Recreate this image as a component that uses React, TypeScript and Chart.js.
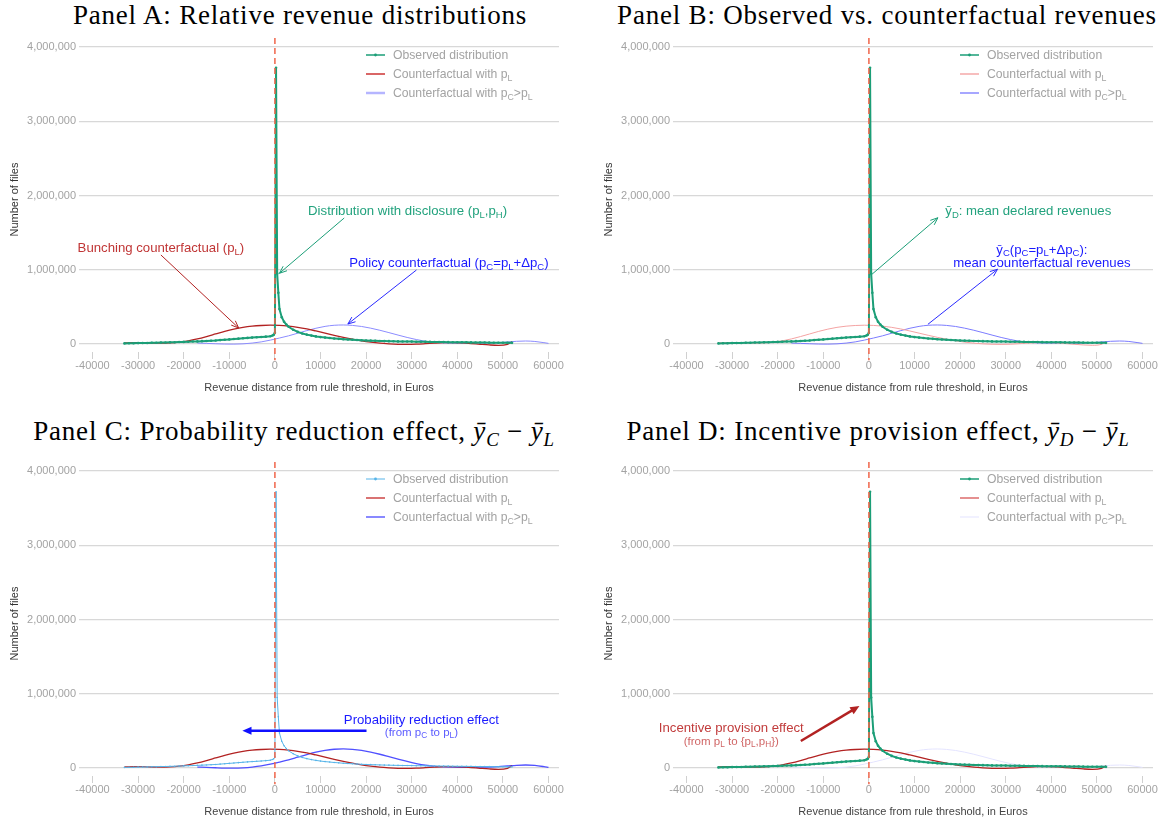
import React, { useEffect, useRef } from "react";
import { Chart, registerables } from "chart.js";
Chart.register(...registerables);

// ---------- data ----------
const xTickValues = [-40000, -30000, -20000, -10000, 0, 10000, 20000, 30000, 40000, 50000, 60000];
const yTickValues = [0, 1000000, 2000000, 3000000, 4000000];
const threshold = 0;

const observedRevenue = [
  -33000, -32000, -31000, -30000, -29000, -28000, -27000, -26000, -25000, -24000,
  -23000, -22000, -21000, -20000, -19000, -18000, -17000, -16000, -15000, -14000,
  -13000, -12000, -11000, -10000, -9000, -8000, -7000, -6000, -5000, -4000,
  -3000, -2000, -1000, -500, -250, 0, 250, 500, 750, 1000,
  1500, 2000, 2500, 3000, 4000, 5000, 6000, 7000, 8000, 9000,
  10000, 11000, 12000, 13000, 14000, 15000, 16000, 17000, 18000, 19000,
  20000, 21000, 22000, 23000, 24000, 25000, 26000, 27000, 28000, 29000,
  30000, 31000, 32000, 33000, 34000, 35000, 36000, 37000, 38000, 39000,
  40000, 41000, 42000, 43000, 44000, 45000, 46000, 47000, 48000, 49000,
  50000, 51000, 52000,
];
const observedFiles = [
  8000, 9000, 10000, 12000, 13000, 14000, 16000, 17000, 19000, 20000,
  22000, 24000, 26000, 28000, 30000, 33000, 35000, 38000, 41000, 44000,
  47000, 52000, 57000, 62000, 67000, 72000, 77000, 82000, 86000, 90000,
  94000, 99000, 105000, 115000, 125000, 150000, 3720000, 950000, 690000, 470000,
  360000, 300000, 262000, 232000, 192000, 163000, 142000, 126000, 113000, 102000,
  93000, 86000, 80000, 74000, 69000, 64000, 60000, 56000, 53000, 50000,
  47000, 45000, 43000, 41000, 39000, 38000, 36000, 35000, 34000, 33000,
  32000, 31000, 30000, 29000, 28000, 27000, 26000, 25500, 25000, 24000,
  23000, 22500, 22000, 21000, 20000, 19500, 19000, 18000, 17500, 17000,
  16000, 15500, 15000,
];

const bunchingRevenue = [
  -33000, -31000, -29000, -27000, -25000, -23000, -21000, -19000, -17000, -15000,
  -13000, -11000, -9000, -7000, -5000, -3000, -1000, 1000, 3000, 5000,
  7000, 9000, 11000, 13000, 15000, 17000, 19000, 21000, 23000, 25000,
  27000, 29000, 31000, 33000, 35000, 37000, 39000, 41000, 43000, 45000,
  47000, 49000, 51000, 52000,
];
const bunchingFiles = [
  15000, 18000, 17000, 13000, 11000, 14000, 24000, 42000, 68000, 100000,
  135000, 170000, 200000, 224000, 240000, 249000, 253000, 250000, 240000, 224000,
  202000, 175000, 146000, 117000, 90000, 65000, 43000, 25000, 11000, 2000,
  -4000, -6000, -3000, 4000, 12000, 18000, 19000, 14000, 6000, -4000,
  -13000, -18000, -4000, 30000,
];

const policyRevenue = [
  -17000, -15000, -13000, -11000, -9000, -7000, -5000, -3000, -1000, 1000,
  3000, 5000, 7000, 9000, 11000, 13000, 15000, 17000, 19000, 21000,
  23000, 25000, 27000, 29000, 31000, 33000, 35000, 37000, 39000, 41000,
  43000, 45000, 47000, 49000, 51000, 53000, 55000, 57000, 59000, 60000,
];
const policyFiles = [
  12000, 8000, 3000, -1000, -2000, 2000, 12000, 28000, 52000, 80000,
  110000, 145000, 180000, 212000, 237000, 252000, 256000, 250000, 236000, 213000,
  185000, 153000, 120000, 88000, 60000, 37000, 22000, 14000, 11000, 10000,
  10000, 11000, 13000, 18000, 27000, 36000, 40000, 34000, 18000, 8000,
];

// ---------- layout constants ----------
const X_MIN = -42960;
const X_MAX = 62300;
const Y_MIN = -108000;
const Y_MAX = 4000000;
const THRESH_TOP = 4120000;
const THRESH_BOTTOM = -220000;

const SANS = '"Liberation Sans", Arial, Helvetica, sans-serif';
const SERIF = '"Liberation Serif", "Times New Roman", serif';

type Seg = { t: string; sub?: boolean };
type TextAnn = { x: number; y: number; segs: Seg[]; color: string; size: number; align: "left" | "center" };
type ArrowAnn = { from: [number, number]; to: [number, number]; color: string; width: number; head: "open" | "filled"; headLen: number };
type LegendItem = { color: string; width: number; marker?: boolean; segs: Seg[] };

const legendLabels: Seg[][] = [
  [{ t: "Observed distribution" }],
  [{ t: "Counterfactual with p" }, { t: "L", sub: true }],
  [{ t: "Counterfactual with p" }, { t: "C", sub: true }, { t: ">p" }, { t: "L", sub: true }],
];

function pts(xs: number[], ys: number[]) {
  return xs.map((x, i) => ({ x, y: ys[i] }));
}

function drawRich(ctx: CanvasRenderingContext2D, segs: Seg[], x: number, y: number, align: string, size: number, color: string) {
  const subSize = size * 0.72;
  let total = 0;
  const widths = segs.map((s) => {
    ctx.font = `${s.sub ? subSize : size}px ${SANS}`;
    const w = ctx.measureText(s.t).width;
    total += w;
    return w;
  });
  let cx = align === "center" ? x - total / 2 : x;
  ctx.fillStyle = color;
  ctx.textAlign = "left";
  ctx.textBaseline = "alphabetic";
  const base = y + size * 0.36;
  segs.forEach((s, i) => {
    ctx.font = `${s.sub ? subSize : size}px ${SANS}`;
    ctx.fillText(s.t, cx, s.sub ? base + size * 0.2 : base);
    cx += widths[i];
  });
}

function drawArrow(ctx: CanvasRenderingContext2D, x1: number, y1: number, x2: number, y2: number, a: ArrowAnn) {
  const ang = Math.atan2(y2 - y1, x2 - x1);
  ctx.save();
  ctx.strokeStyle = a.color;
  ctx.fillStyle = a.color;
  ctx.lineWidth = a.width;
  ctx.lineCap = "butt";
  const spread = a.head === "filled" ? 0.42 : 0.38;
  const endX = a.head === "filled" ? x2 - Math.cos(ang) * a.headLen * 0.7 : x2;
  const endY = a.head === "filled" ? y2 - Math.sin(ang) * a.headLen * 0.7 : y2;
  ctx.beginPath();
  ctx.moveTo(x1, y1);
  ctx.lineTo(endX, endY);
  ctx.stroke();
  const hx1 = x2 - a.headLen * Math.cos(ang - spread);
  const hy1 = y2 - a.headLen * Math.sin(ang - spread);
  const hx2 = x2 - a.headLen * Math.cos(ang + spread);
  const hy2 = y2 - a.headLen * Math.sin(ang + spread);
  ctx.beginPath();
  if (a.head === "filled") {
    ctx.moveTo(x2, y2);
    ctx.lineTo(hx1, hy1);
    ctx.lineTo(hx2, hy2);
    ctx.closePath();
    ctx.fill();
  } else {
    ctx.lineWidth = Math.max(1, a.width);
    ctx.moveTo(hx1, hy1);
    ctx.lineTo(x2, y2);
    ctx.lineTo(hx2, hy2);
    ctx.stroke();
  }
  ctx.restore();
}

type PanelDef = {
  key: string;
  left: number;
  top: number;
  width: number;
  height: number;
  padRight: number;
  titleCenter: number;
  titleTop: number;
  title: React.ReactNode;
  obsColor: string;
  obsWidth: number;
  obsPoint: number;
  redColor: string;
  redWidth: number;
  blueColor: string;
  blueWidth: number;
  legend: LegendItem[];
  texts: TextAnn[];
  arrows: ArrowAnn[];
};

const GREEN = "#1b9e77";
const RED = "#b22222";

const ybar = (sub: string) => (
  <>
    <i>ȳ</i>
    <sub style={{ fontSize: "0.7em", lineHeight: 0, fontStyle: "italic" }}>{sub}</sub>
  </>
);

const panels: PanelDef[] = [
  {
    key: "A",
    left: 0,
    top: 30,
    width: 594,
    height: 370,
    padRight: 35,
    titleCenter: 300,
    titleTop: 0,
    title: <>Panel A: Relative revenue distributions</>,
    obsColor: GREEN,
    obsWidth: 2,
    obsPoint: 1.3,
    redColor: RED,
    redWidth: 1.3,
    blueColor: "#8c8cff",
    blueWidth: 1,
    legend: [
      { color: GREEN, width: 1.5, marker: true, segs: legendLabels[0] },
      { color: "#cc3333", width: 1.5, segs: legendLabels[1] },
      { color: "#b5b5ff", width: 2.5, segs: legendLabels[2] },
    ],
    texts: [
      { x: 29100, y: 1795000, color: "#22a27d", size: 13.2, align: "center", segs: [{ t: "Distribution with disclosure (p" }, { t: "L", sub: true }, { t: ",p" }, { t: "H", sub: true }, { t: ")" }] },
      { x: -25000, y: 1297000, color: "#c03535", size: 13.2, align: "center", segs: [{ t: "Bunching counterfactual (p" }, { t: "L", sub: true }, { t: ")" }] },
      { x: 38160, y: 1095000, color: "#1a1aff", size: 13.2, align: "center", segs: [{ t: "Policy counterfactual (p" }, { t: "C", sub: true }, { t: "=p" }, { t: "L", sub: true }, { t: "+Δp" }, { t: "C", sub: true }, { t: ")" }] },
    ],
    arrows: [
      { from: [15200, 1697000], to: [990, 952000], color: GREEN, width: 1, head: "open", headLen: 8 },
      { from: [-25000, 1199000], to: [-7940, 215000], color: RED, width: 1, head: "open", headLen: 8 },
      { from: [31050, 997000], to: [16000, 269000], color: "#2a2aff", width: 1, head: "open", headLen: 8 },
    ],
  },
  {
    key: "B",
    left: 594,
    top: 30,
    width: 568,
    height: 370,
    padRight: 9,
    titleCenter: 887,
    titleTop: 0,
    title: <>Panel B: Observed vs. counterfactual revenues</>,
    obsColor: GREEN,
    obsWidth: 2,
    obsPoint: 1.3,
    redColor: "#f4a3a3",
    redWidth: 1,
    blueColor: "#7c7cff",
    blueWidth: 1,
    legend: [
      { color: GREEN, width: 1.5, marker: true, segs: legendLabels[0] },
      { color: "#f4a8a8", width: 1.5, segs: legendLabels[1] },
      { color: "#8a8aff", width: 1.5, segs: legendLabels[2] },
    ],
    texts: [
      { x: 16750, y: 1795000, color: "#22a27d", size: 13.2, align: "left", segs: [{ t: "ȳ" }, { t: "D", sub: true }, { t: ": mean declared revenues" }] },
      { x: 37940, y: 1280000, color: "#1a1aff", size: 13.2, align: "center", segs: [{ t: "ȳ" }, { t: "C", sub: true }, { t: "(p" }, { t: "C", sub: true }, { t: "=p" }, { t: "L", sub: true }, { t: "+Δp" }, { t: "C", sub: true }, { t: "):" }] },
      { x: 37940, y: 1100000, color: "#1a1aff", size: 13.2, align: "center", segs: [{ t: "mean counterfactual revenues" }] },
    ],
    arrows: [
      { from: [750, 943000], to: [15130, 1700000], color: GREEN, width: 1, head: "open", headLen: 8 },
      { from: [12940, 265000], to: [28200, 1006000], color: "#2a2aff", width: 1, head: "open", headLen: 8 },
    ],
  },
  {
    key: "C",
    left: 0,
    top: 454,
    width: 594,
    height: 370,
    padRight: 35,
    titleCenter: 294,
    titleTop: 416,
    title: (
      <>
        Panel C: Probability reduction effect, {ybar("C")} − {ybar("L")}
      </>
    ),
    obsColor: "#56b4e9",
    obsWidth: 1,
    obsPoint: 0.8,
    redColor: RED,
    redWidth: 1.3,
    blueColor: "#5050ff",
    blueWidth: 1.3,
    legend: [
      { color: "#56b4e9", width: 1, marker: true, segs: legendLabels[0] },
      { color: "#cc4444", width: 1.5, segs: legendLabels[1] },
      { color: "#6262ff", width: 1.5, segs: legendLabels[2] },
    ],
    texts: [
      { x: 32130, y: 656000, color: "#1a1aff", size: 13.2, align: "center", segs: [{ t: "Probability reduction effect" }] },
      { x: 32130, y: 489000, color: "#5c5cff", size: 11.5, align: "center", segs: [{ t: "(from p" }, { t: "C", sub: true }, { t: " to p" }, { t: "L", sub: true }, { t: ")" }] },
    ],
    arrows: [{ from: [20090, 502000], to: [-7130, 502000], color: "#1010ff", width: 2.5, head: "filled", headLen: 10 }],
  },
  {
    key: "D",
    left: 594,
    top: 454,
    width: 568,
    height: 370,
    padRight: 9,
    titleCenter: 878,
    titleTop: 416,
    title: (
      <>
        Panel D: Incentive provision effect, {ybar("D")} − {ybar("L")}
      </>
    ),
    obsColor: GREEN,
    obsWidth: 2,
    obsPoint: 1.3,
    redColor: RED,
    redWidth: 1.3,
    blueColor: "#e4e4ff",
    blueWidth: 1,
    legend: [
      { color: GREEN, width: 1.5, marker: true, segs: legendLabels[0] },
      { color: "#dd6b6b", width: 1.5, segs: legendLabels[1] },
      { color: "#ececff", width: 1.5, segs: legendLabels[2] },
    ],
    texts: [
      { x: -30180, y: 543000, color: "#c13b3b", size: 13.2, align: "center", segs: [{ t: "Incentive provision effect" }] },
      { x: -30180, y: 364000, color: "#d06565", size: 11.5, align: "center", segs: [{ t: "(from p" }, { t: "L", sub: true }, { t: " to {p" }, { t: "L", sub: true }, { t: ",p" }, { t: "H", sub: true }, { t: "})" }] },
    ],
    arrows: [{ from: [-14930, 364000], to: [-2080, 835000], color: RED, width: 2.5, head: "filled", headLen: 10 }],
  },
];

function PanelChart({ p }: { p: PanelDef }) {
  const ref = useRef<HTMLCanvasElement | null>(null);
  useEffect(() => {
    if (!ref.current) return;
    const overlay = {
      id: "overlay" + p.key,
      afterDatasetsDraw(chart: any) {
        const { ctx } = chart;
        const x = chart.scales.x;
        const y = chart.scales.y;
        // threshold
        ctx.save();
        ctx.strokeStyle = "#f0654a";
        ctx.lineWidth = 1.5;
        ctx.setLineDash([6, 4]);
        const tx = x.getPixelForValue(threshold);
        ctx.beginPath();
        ctx.moveTo(tx, y.getPixelForValue(THRESH_TOP));
        ctx.lineTo(tx, y.getPixelForValue(THRESH_BOTTOM));
        ctx.stroke();
        ctx.restore();
        // arrows
        p.arrows.forEach((a) => {
          drawArrow(ctx, x.getPixelForValue(a.from[0]), y.getPixelForValue(a.from[1]), x.getPixelForValue(a.to[0]), y.getPixelForValue(a.to[1]), a);
        });
        // texts
        p.texts.forEach((t) => {
          drawRich(ctx, t.segs, x.getPixelForValue(t.x), y.getPixelForValue(t.y), t.align, t.size, t.color);
        });
        // legend
        const lx = 366;
        const rows = [25, 44, 63];
        p.legend.forEach((it, i) => {
          const ly = rows[i];
          ctx.save();
          ctx.strokeStyle = it.color;
          ctx.lineWidth = it.width;
          ctx.beginPath();
          ctx.moveTo(lx, ly);
          ctx.lineTo(lx + 19, ly);
          ctx.stroke();
          if (it.marker) {
            ctx.fillStyle = it.color;
            ctx.beginPath();
            ctx.arc(lx + 9.5, ly, 1.4, 0, Math.PI * 2);
            ctx.fill();
          }
          ctx.restore();
          drawRich(ctx, it.segs, lx + 27, ly, "left", 12.2, "#a3a3a3");
        });
      },
    };

    const chart = new Chart(ref.current, {
      type: "line",
      data: {
        datasets: [
          {
            label: "Observed distribution",
            data: pts(observedRevenue, observedFiles),
            borderColor: p.obsColor,
            backgroundColor: p.obsColor,
            borderWidth: p.obsWidth,
            pointRadius: p.obsPoint,
            pointBorderWidth: 0,
            pointBackgroundColor: p.obsColor,
            tension: 0,
            clip: false as any,
          },
          {
            label: "Counterfactual with pL",
            data: pts(bunchingRevenue, bunchingFiles),
            borderColor: p.redColor,
            borderWidth: p.redWidth,
            pointRadius: 0,
            tension: 0.4,
            cubicInterpolationMode: "monotone",
            clip: false as any,
          },
          {
            label: "Counterfactual with pC>pL",
            data: pts(policyRevenue, policyFiles),
            borderColor: p.blueColor,
            borderWidth: p.blueWidth,
            pointRadius: 0,
            tension: 0.4,
            cubicInterpolationMode: "monotone",
            clip: false as any,
          },
        ],
      },
      options: {
        animation: false,
        responsive: false,
        maintainAspectRatio: false,
        events: [],
        layout: { padding: { top: 17, left: 0, right: p.padRight, bottom: 0 } },
        plugins: { legend: { display: false }, tooltip: { enabled: false }, title: { display: false } },
        scales: {
          x: {
            type: "linear",
            min: X_MIN,
            max: X_MAX,
            afterBuildTicks: (s: any) => {
              s.ticks = xTickValues.map((v) => ({ value: v }));
            },
            afterFit: (s: any) => {
              s.height = 48;
            },
            grid: { drawOnChartArea: false, drawTicks: true, tickLength: 7, color: "#d0d0d0" },
            border: { display: false },
            ticks: {
              color: "#a3a3a3",
              font: { family: SANS, size: 11 },
              padding: 0,
              maxRotation: 0,
              autoSkip: false,
              callback: (v: any) => String(v),
            },
            title: {
              display: true,
              text: "Revenue distance from rule threshold, in Euros",
              color: "#444444",
              font: { family: SANS, size: 11 },
              padding: { top: 0, bottom: 5 },
            },
          },
          y: {
            min: Y_MIN,
            max: Y_MAX,
            afterBuildTicks: (s: any) => {
              s.ticks = yTickValues.map((v) => ({ value: v }));
            },
            afterFit: (s: any) => {
              s.width = 79;
            },
            grid: { drawTicks: false, color: "#d8d8d8", lineWidth: 1.2 },
            border: { display: false },
            ticks: {
              color: "#a3a3a3",
              font: { family: SANS, size: 11 },
              padding: 3,
              callback: (v: any) => Number(v).toLocaleString("en-US"),
            },
            title: {
              display: true,
              text: "Number of files",
              color: "#333333",
              font: { family: SANS, size: 11 },
              padding: { top: 8, bottom: 0 },
            },
          },
        },
      } as any,
      plugins: [overlay],
    });
    return () => chart.destroy();
  }, [p]);

  return (
    <>
      <div
        style={{
          position: "absolute",
          left: p.titleCenter - 320,
          width: 640,
          top: p.titleTop,
          textAlign: "center",
          fontFamily: SERIF,
          fontSize: 27,
          lineHeight: "30px",
          letterSpacing: "0.8px",
          color: "#000",
          whiteSpace: "nowrap",
        }}
      >
        {p.title}
      </div>
      <canvas
        ref={ref}
        width={p.width}
        height={p.height}
        style={{ position: "absolute", left: p.left, top: p.top, width: p.width, height: p.height }}
      />
    </>
  );
}

export default function App() {
  return (
    <div
      style={{
        position: "fixed",
        left: 0,
        top: 0,
        width: 1162,
        height: 821,
        overflow: "hidden",
        background: "#ffffff",
      }}
    >
      {panels.map((p) => (
        <PanelChart key={p.key} p={p} />
      ))}
    </div>
  );
}
